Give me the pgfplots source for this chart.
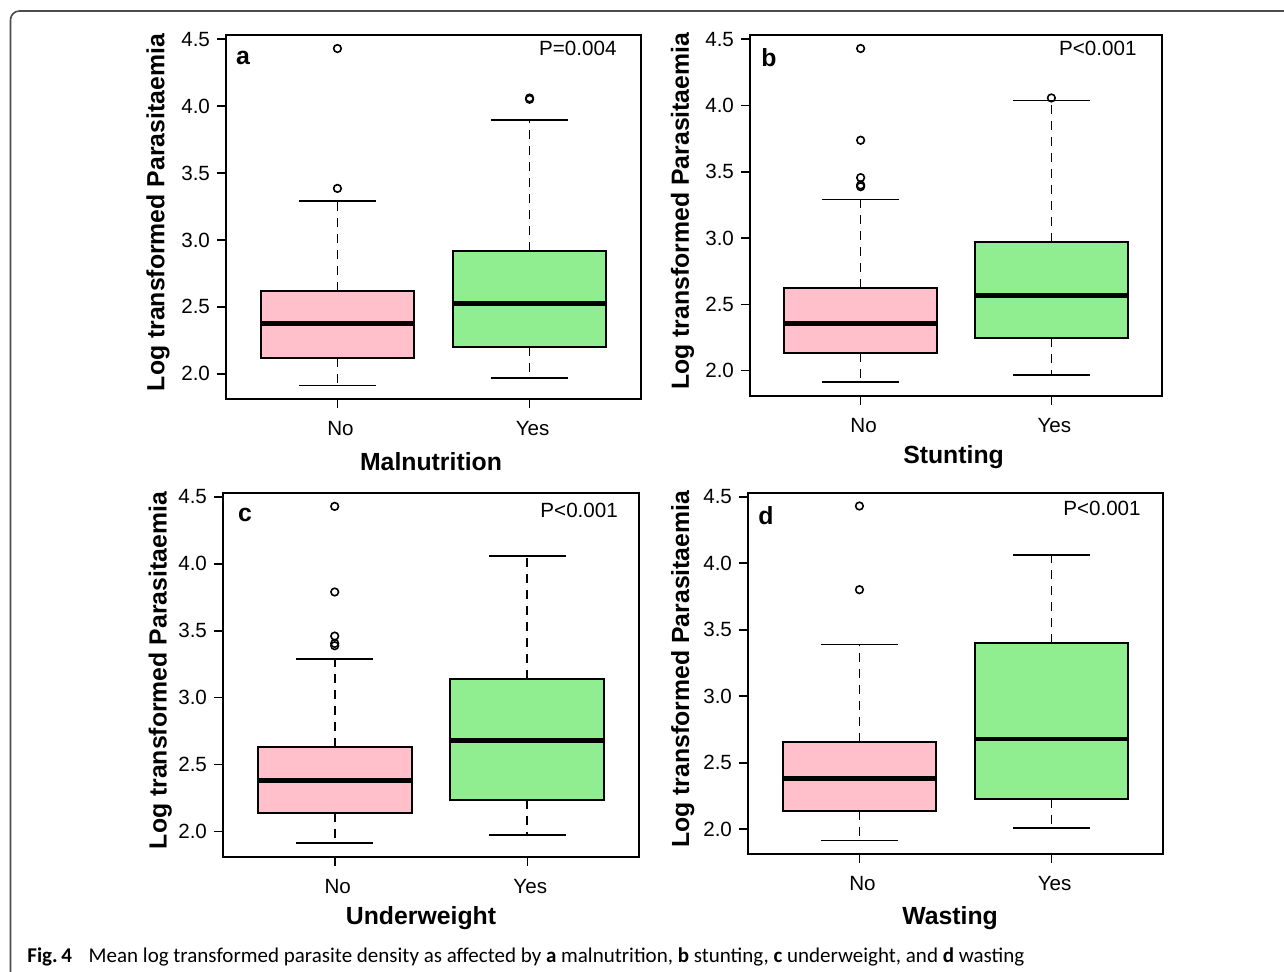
\documentclass[border=0pt]{standalone}
\usepackage{fontspec}
\setmainfont{Liberation Sans}
\newfontfamily\capfont{Carlito}
\usepackage{pgfplots}
\pgfplotsset{compat=1.18}
\usepgfplotslibrary{statistics}

\definecolor{rpink}{RGB}{255,192,203}
\definecolor{rgreen}{RGB}{144,238,144}

\tikzset{
  panel/.style={font=\bfseries\fontsize{12.4}{14}\selectfont},
  pval/.style={anchor=east,inner sep=0pt,font=\fontsize{10.3}{12}\selectfont},
}

% R-like boxplot panel
\pgfplotsset{
  rbox/.style={
    scale only axis, anchor=south west,
    xmin=0.42, xmax=2.58,
    xtick={1,2}, xticklabels={No,Yes},
    ytick={2,2.5,3,3.5,4,4.5},
    yticklabel style={/pgf/number format/fixed,/pgf/number format/fixed zerofill,/pgf/number format/precision=1},
    /pgf/number format/assume math mode=true,
    tick align=outside, tick pos=left,
    major tick length=4.5pt,
    axis line style={line width=0.9pt},
    every tick/.style={black,line width=0.8pt},
    tick label style={font=\fontsize{10.3}{12}\selectfont},
    xticklabel style={yshift=-3pt,xshift=1.5pt},
    label style={font=\bfseries\fontsize{12.4}{14}\selectfont},
    ylabel style={at={(axis description cs:-0.164,0.512)},anchor=center,rotate=0},
    boxplot/draw direction=y,
    boxplot/every box/.style={line width=1pt},
    boxplot/every median/.style={line width=2.3pt},
    boxplot/draw/lower whisker/.code={%
      \draw[line width=0.85pt,dash pattern=on 4.5pt off 3.5pt]
        (boxplot cs:\pgfplotsboxplotvalue{lower quartile}) -- (boxplot cs:\pgfplotsboxplotvalue{lower whisker});
      \draw[line width=0.85pt]
        (boxplot whisker cs:\pgfplotsboxplotvalue{lower whisker},0) -- (boxplot whisker cs:\pgfplotsboxplotvalue{lower whisker},1);
    },
    boxplot/draw/upper whisker/.code={%
      \draw[line width=0.85pt,dash pattern=on 4.5pt off 3.5pt]
        (boxplot cs:\pgfplotsboxplotvalue{upper quartile}) -- (boxplot cs:\pgfplotsboxplotvalue{upper whisker});
      \draw[line width=0.85pt]
        (boxplot whisker cs:\pgfplotsboxplotvalue{upper whisker},0) -- (boxplot whisker cs:\pgfplotsboxplotvalue{upper whisker},1);
    },
  },
  nobox/.style={draw=black,fill=rpink,mark=o,mark size=1.9pt,mark options={solid,line width=0.8pt}},
  yesbox/.style={draw=black,fill=rgreen,mark=o,mark size=1.9pt,mark options={solid,line width=0.8pt}},
}

\begin{document}
\begin{tikzpicture}
\useasboundingbox (0,0) rectangle (642pt,486pt);
\begin{scope}
\clip (0,0) rectangle (642pt,486pt);
\draw[gray!60!black,line width=0.8pt,rounded corners=4.5pt] (5.25pt,-20pt) rectangle (680pt,480.5pt);
\end{scope}

% a: malnutrition
\begin{axis}[rbox, at={(113pt,286.5pt)}, width=207.5pt, height=182pt,
  ymin=1.812, ymax=4.531,
  ylabel={Log transformed Parasitaemia}, xlabel={Malnutrition},
  xlabel style={at={(axis description cs:0.494,-0.173)},anchor=center}]
\addplot[nobox, boxplot prepared={draw position=1, median=2.374, lower quartile=2.115,
  upper quartile=2.619, lower whisker=1.913, upper whisker=3.29, box extend=0.8, whisker extend=0.4}]
  table[row sep=\\, y index=0] {3.385\\ 4.43\\};
\addplot[yesbox, boxplot prepared={draw position=2, median=2.524, lower quartile=2.197,
  upper quartile=2.916, lower whisker=1.968, upper whisker=3.896, box extend=0.8, whisker extend=0.4}]
  table[row sep=\\, y index=0] {4.051\\ 4.06\\};
\node[panel] at (rel axis cs:0.041,0.937) {a};
\node[pval] at (rel axis cs:0.942,0.962) {P=0.004};
\end{axis}

% b: stunting
\begin{axis}[rbox, at={(375pt,288pt)}, width=206pt, height=180.5pt,
  ymin=1.809, ymax=4.532,
  ylabel={Log transformed Parasitaemia}, xlabel={Stunting},
  xlabel style={at={(axis description cs:0.494,-0.169)},anchor=center}]
\addplot[nobox, boxplot prepared={draw position=1, median=2.355, lower quartile=2.131,
  upper quartile=2.626, lower whisker=1.914, upper whisker=3.29, box extend=0.8, whisker extend=0.4}]
  table[row sep=\\, y index=0] {3.388\\ 3.40\\ 3.456\\ 3.738\\ 4.43\\};
\addplot[yesbox, boxplot prepared={draw position=2, median=2.566, lower quartile=2.249,
  upper quartile=2.968, lower whisker=1.967, upper whisker=4.037, box extend=0.8, whisker extend=0.4}]
  table[row sep=\\, y index=0] {4.057\\};
\node[panel] at (rel axis cs:0.046,0.936) {b};
\node[pval] at (rel axis cs:0.939,0.964) {P<0.001};
\end{axis}

% c: underweight
\begin{axis}[rbox, at={(111.5pt,57.5pt)}, width=208pt, height=182pt,
  ymin=1.811, ymax=4.528,
  ylabel={Log transformed Parasitaemia}, xlabel={Underweight},
  ylabel style={at={(axis description cs:-0.151,0.512)}},
  xlabel style={at={(axis description cs:0.476,-0.168)},anchor=center}]
\addplot[nobox, boxplot prepared={draw position=1, median=2.381, lower quartile=2.142,
  upper quartile=2.632, lower whisker=1.915, upper whisker=3.291, box extend=0.8, whisker extend=0.4}]
  table[row sep=\\, y index=0] {3.388\\ 3.405\\ 3.46\\ 3.789\\ 4.428\\};
\addplot[yesbox, boxplot prepared={draw position=2, median=2.682, lower quartile=2.236,
  upper quartile=3.142, lower whisker=1.975, upper whisker=4.06, box extend=0.8, whisker extend=0.4}]
  coordinates {};
\node[panel] at (rel axis cs:0.053,0.94) {c};
\node[pval] at (rel axis cs:0.95,0.953) {P<0.001};
\end{axis}

% d: wasting
\begin{axis}[rbox, at={(374pt,59pt)}, width=207.5pt, height=180.5pt,
  ymin=1.814, ymax=4.528,
  ylabel={Log transformed Parasitaemia}, xlabel={Wasting},
  ylabel style={at={(axis description cs:-0.157,0.512)}},
  xlabel style={at={(axis description cs:0.487,-0.177)},anchor=center}]
\addplot[nobox, boxplot prepared={draw position=1, median=2.381, lower quartile=2.14,
  upper quartile=2.654, lower whisker=1.915, upper whisker=3.388, box extend=0.8, whisker extend=0.4}]
  table[row sep=\\, y index=0] {3.801\\ 4.43\\};
\addplot[yesbox, boxplot prepared={draw position=2, median=2.679, lower quartile=2.23,
  upper quartile=3.398, lower whisker=2.01, upper whisker=4.062, box extend=0.8, whisker extend=0.4}]
  coordinates {};
\node[panel] at (rel axis cs:0.043,0.936) {d};
\node[pval] at (rel axis cs:0.947,0.956) {P<0.001};
\end{axis}

\node[anchor=base west,inner sep=0pt,font=\capfont\fontsize{10.5}{12}\selectfont] at (13.5pt,4.5pt)
  {\textbf{Fig.\,4}\hspace{0.8em}Mean log transformed parasite density as affected by \textbf{a} malnutrition, \textbf{b} stunting, \textbf{c} underweight, and \textbf{d} wasting};
\end{tikzpicture}
\end{document}
